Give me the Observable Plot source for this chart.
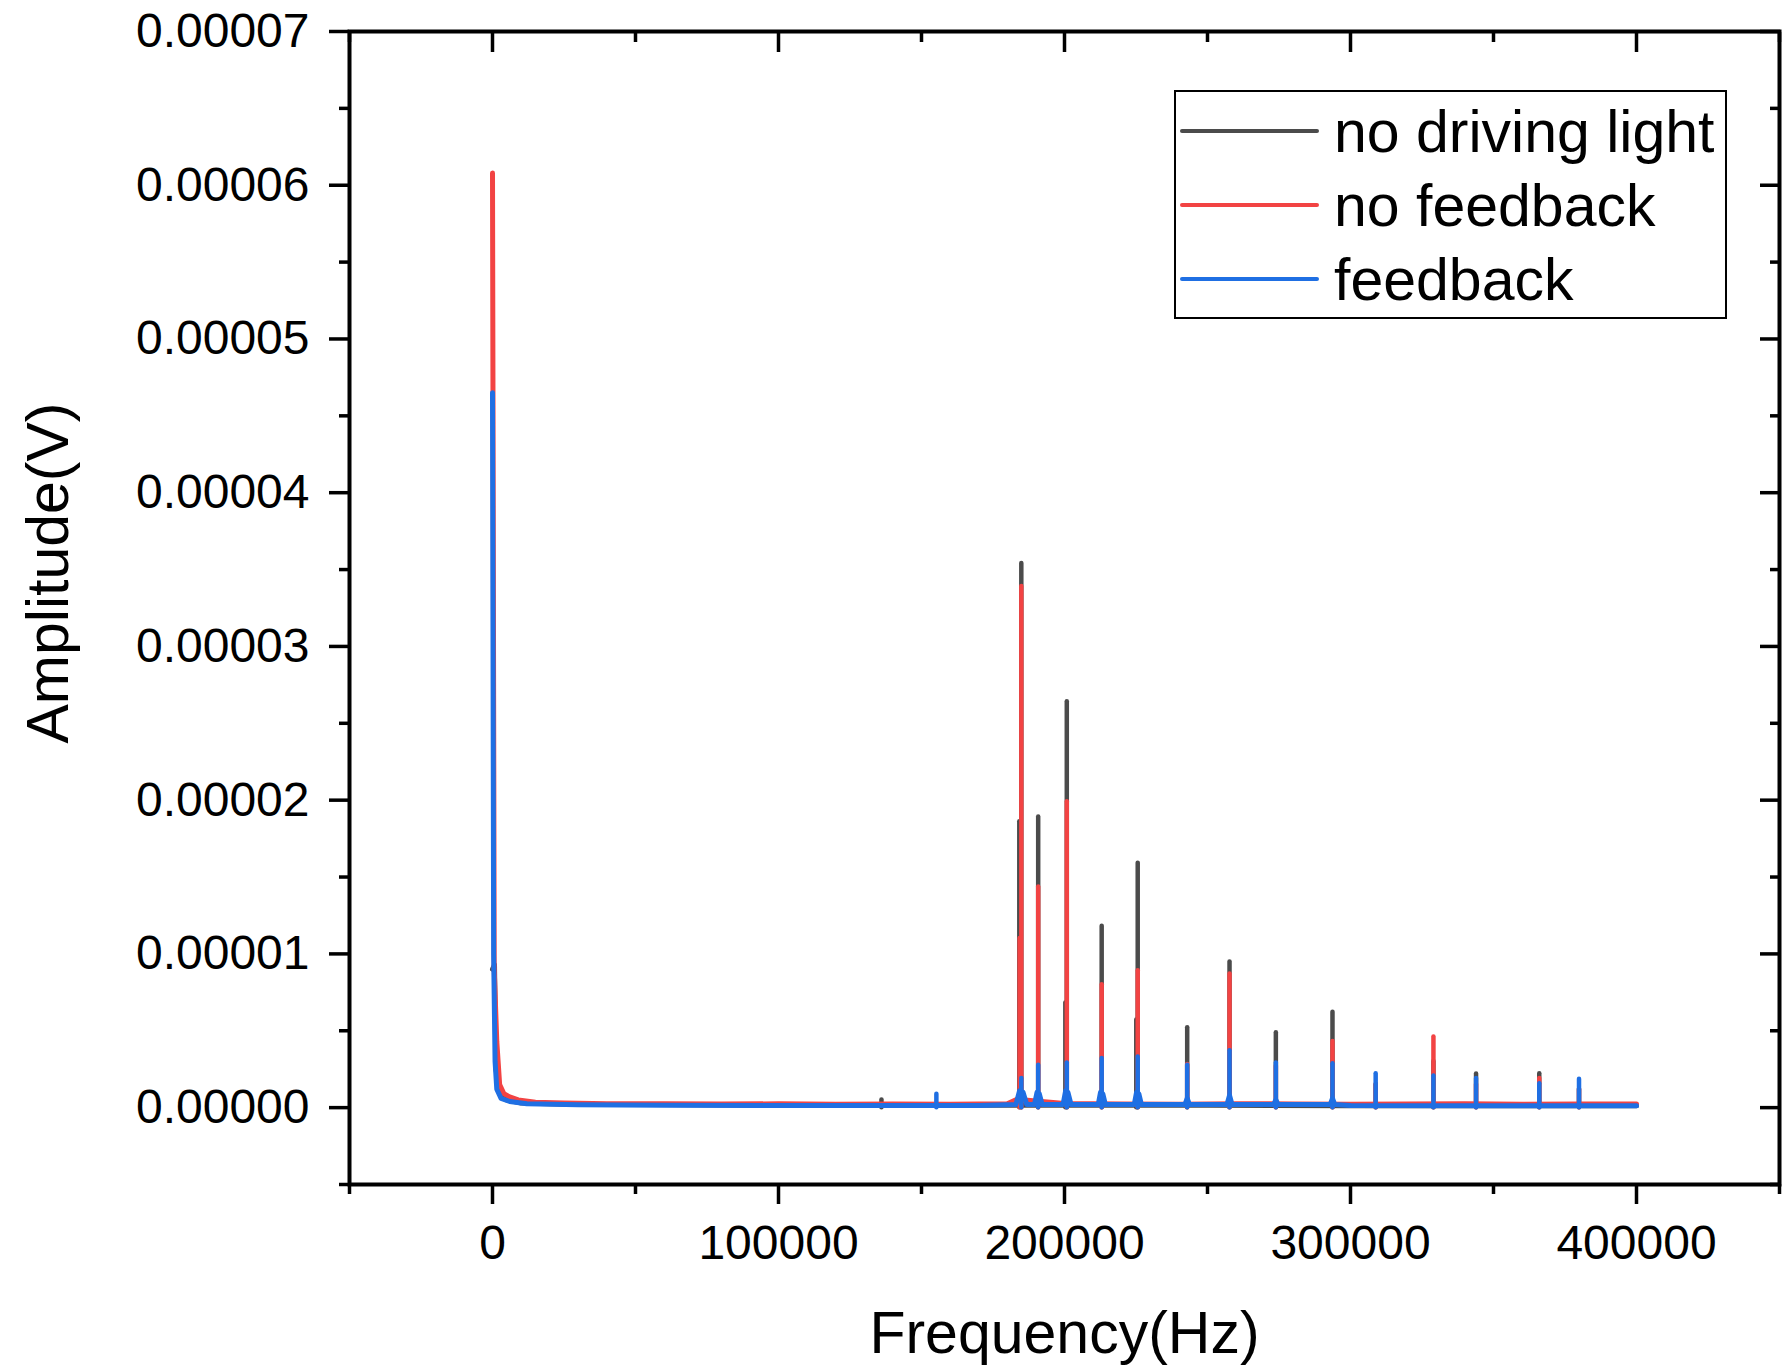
<!DOCTYPE html>
<html>
<head>
<meta charset="utf-8">
<script src="https://cdn.jsdelivr.net/npm/d3@7"></script>
<script src="https://cdn.jsdelivr.net/npm/@observablehq/plot@0.6"></script>
<style>
  body { margin: 0; background: #fff; }
  #wrap { position: relative; width: 1785px; height: 1367px; font-family: "Liberation Sans", Arial, sans-serif; }
  #legend { position: absolute; left: 1174px; top: 90px; }
</style>
</head>
<body>
<div id="wrap"><div id="legend"></div></div>
<script>
// ---- Data (frequency in Hz, amplitude in V) ----
const seriesNames = ["no driving light", "no feedback", "feedback"];
const seriesColors = ["#4b4b4b", "#f24343", "#1f6fe3"];

const freqTicks = [0, 100000, 200000, 300000, 400000];
const freqMinorTicks = [-50000, 50000, 150000, 250000, 350000, 450000];
const ampTicks = [0, 1e-5, 2e-5, 3e-5, 4e-5, 5e-5, 6e-5, 7e-5];
const ampMinorTicks = [-0.5e-5, 0.5e-5, 1.5e-5, 2.5e-5, 3.5e-5, 4.5e-5, 5.5e-5, 6.5e-5];

// continuous spectrum (low-frequency decay + noise floor)
const noDrivingBase = [
  [0, 0.90e-5], [700, 0.93e-5], [1200, 0.25e-5], [2500, 0.10e-5], [5000, 0.05e-5],
  [10000, 0.03e-5], [30000, 0.02e-5], [60000, 0.02e-5], [100000, 0.015e-5],
  [150000, 0.015e-5], [200000, 0.015e-5], [250000, 0.015e-5], [300000, 0.012e-5],
  [350000, 0.012e-5], [400000, 0.012e-5]
];
const noFeedbackBase = [
  [0, 6.08e-5], [600, 0.9e-5], [1500, 0.43e-5], [2500, 0.15e-5], [4000, 0.09e-5],
  [6000, 0.07e-5], [9000, 0.05e-5], [15000, 0.035e-5], [25000, 0.03e-5], [40000, 0.025e-5],
  [60000, 0.026e-5], [80000, 0.023e-5], [100000, 0.025e-5], [120000, 0.022e-5],
  [140000, 0.024e-5], [160000, 0.022e-5], [180000, 0.025e-5], [184000, 0.06e-5],
  [186000, 0.05e-5], [200000, 0.027e-5], [220000, 0.024e-5], [240000, 0.022e-5],
  [260000, 0.026e-5], [280000, 0.024e-5], [300000, 0.022e-5], [320000, 0.024e-5],
  [340000, 0.025e-5], [360000, 0.022e-5], [380000, 0.024e-5], [400000, 0.024e-5]
];
const feedbackBase = [
  [0, 4.65e-5], [400, 1.0e-5], [900, 0.3e-5], [1500, 0.12e-5], [3000, 0.06e-5],
  [6000, 0.04e-5], [12000, 0.025e-5], [30000, 0.018e-5], [60000, 0.016e-5],
  [100000, 0.014e-5], [140000, 0.014e-5], [170000, 0.014e-5],
  [183000, 0.02e-5], [184300, 0.11e-5], [185500, 0.10e-5], [186800, 0.02e-5],
  [189500, 0.02e-5], [190400, 0.10e-5], [191200, 0.09e-5], [192200, 0.02e-5],
  [199500, 0.02e-5], [200400, 0.11e-5], [201200, 0.10e-5], [202300, 0.02e-5],
  [211800, 0.02e-5], [212600, 0.10e-5], [213400, 0.09e-5], [214300, 0.02e-5],
  [224400, 0.02e-5], [225200, 0.10e-5], [226000, 0.09e-5], [226900, 0.02e-5],
  [242100, 0.02e-5], [242900, 0.06e-5], [243700, 0.02e-5],
  [256800, 0.02e-5], [257700, 0.08e-5], [258600, 0.02e-5],
  [273100, 0.02e-5], [273900, 0.05e-5], [274700, 0.02e-5],
  [292900, 0.02e-5], [293700, 0.06e-5], [294500, 0.02e-5],
  [300000, 0.014e-5], [350000, 0.012e-5], [400000, 0.012e-5]
];

// discrete spectral lines [frequency, peak amplitude]
const noDrivingPeaks = [
  [136000, 0.05e-5], [184200, 1.86e-5], [184900, 3.54e-5], [190800, 1.89e-5],
  [200300, 0.68e-5], [200800, 2.64e-5], [213000, 1.18e-5], [225100, 0.57e-5],
  [225600, 1.59e-5], [242900, 0.52e-5], [257700, 0.947e-5], [273900, 0.487e-5],
  [293700, 0.62e-5], [308800, 0.15e-5], [329000, 0.30e-5], [343900, 0.218e-5],
  [366000, 0.22e-5], [379900, 0.12e-5]
];
const noFeedbackPeaks = [
  [184300, 1.1e-5], [184900, 3.39e-5], [190800, 1.435e-5], [200800, 1.99e-5],
  [213000, 0.80e-5], [225600, 0.89e-5], [242900, 0.28e-5], [257700, 0.87e-5],
  [273900, 0.27e-5], [293700, 0.43e-5], [308800, 0.15e-5], [329000, 0.46e-5],
  [343900, 0.15e-5], [366000, 0.19e-5], [379900, 0.12e-5]
];
const feedbackPeaks = [
  [155200, 0.087e-5], [184900, 0.19e-5], [190800, 0.276e-5], [200800, 0.29e-5],
  [213000, 0.32e-5], [225600, 0.33e-5], [242900, 0.276e-5], [257700, 0.37e-5],
  [273900, 0.29e-5], [293700, 0.285e-5], [308800, 0.22e-5], [329000, 0.205e-5],
  [343900, 0.19e-5], [366000, 0.155e-5], [379900, 0.185e-5]
];

const bases = [noDrivingBase, noFeedbackBase, feedbackBase];
const peaks = [noDrivingPeaks, noFeedbackPeaks, feedbackPeaks];

// ---- Chart ----
const FONT = '"Liberation Sans", Arial, sans-serif';
const marks = [];
bases.forEach((b, i) => {
  marks.push(Plot.line(b, {x: d => d[0], y: d => d[1], stroke: seriesColors[i], strokeWidth: 5, strokeLinejoin: "round", strokeLinecap: "round"}));
  marks.push(Plot.ruleX(peaks[i], {x: d => d[0], y1: 0, y2: d => d[1], stroke: seriesColors[i], strokeWidth: 4.5, strokeLinecap: "round"}));
});

const axisStyle = {stroke: "black", strokeWidth: 3.5, fill: "black", label: null};

const chart = Plot.plot({
  width: 1785,
  height: 1367,
  marginLeft: 349,
  marginRight: 6,
  marginTop: 31,
  marginBottom: 183,
  style: {fontFamily: FONT, background: "white", color: "black"},
  x: {domain: [-50000, 450000], label: null},
  y: {domain: [-0.5e-5, 7e-5], label: null},
  marks: [
    ...marks,
    // bottom axis (outward)
    Plot.axisX(freqTicks, {...axisStyle, anchor: "bottom", tickSize: 20, tickPadding: 20, fontSize: 48, tickFormat: d3.format("d")}),
    Plot.axisX(freqMinorTicks, {...axisStyle, anchor: "bottom", tickSize: 10, tickFormat: () => ""}),
    // top axis (inward)
    Plot.axisX(freqTicks, {...axisStyle, anchor: "top", tickSize: -20, tickFormat: () => ""}),
    Plot.axisX(freqMinorTicks, {...axisStyle, anchor: "top", tickSize: -10, tickFormat: () => ""}),
    // left axis (outward)
    Plot.axisY(ampTicks, {...axisStyle, anchor: "left", tickSize: 20, tickPadding: 20, fontSize: 48, tickFormat: d3.format(".5f")}),
    Plot.axisY(ampMinorTicks, {...axisStyle, anchor: "left", tickSize: 10, tickFormat: () => ""}),
    // right axis (inward)
    Plot.axisY(ampTicks, {...axisStyle, anchor: "right", tickSize: -20, tickFormat: () => ""}),
    Plot.axisY(ampMinorTicks, {...axisStyle, anchor: "right", tickSize: -10, tickFormat: () => ""}),
    Plot.frame({stroke: "black", strokeWidth: 4}),
    // axis titles
    Plot.text(["Frequency(Hz)"], {frameAnchor: "bottom", dy: 168, lineAnchor: "bottom", textAnchor: "middle", fontSize: 59, fill: "black"}),
    Plot.text(["Amplitude(V)"], {frameAnchor: "left", dx: -282, dy: -35, rotate: -90, lineAnchor: "bottom", textAnchor: "middle", fontSize: 59, fill: "black"})
  ]
});
document.getElementById("wrap").prepend(chart);

// ---- Legend ----
const lw = 553, lh = 229;
const leg = d3.select("#legend").append("svg").attr("width", lw).attr("height", lh)
  .style("font-family", FONT);
leg.append("rect").attr("x", 1).attr("y", 1).attr("width", lw - 2).attr("height", lh - 2)
  .attr("fill", "white").attr("stroke", "black").attr("stroke-width", 2);
seriesNames.forEach((name, i) => {
  const cy = 41 + i * 74;
  leg.append("line").attr("x1", 8).attr("x2", 143).attr("y1", cy).attr("y2", cy)
    .attr("stroke", seriesColors[i]).attr("stroke-width", 4).attr("stroke-linecap", "round");
  leg.append("text").attr("x", 160).attr("y", cy + 21).attr("font-size", 59).attr("fill", "black").text(name);
});
</script>
</body>
</html>
